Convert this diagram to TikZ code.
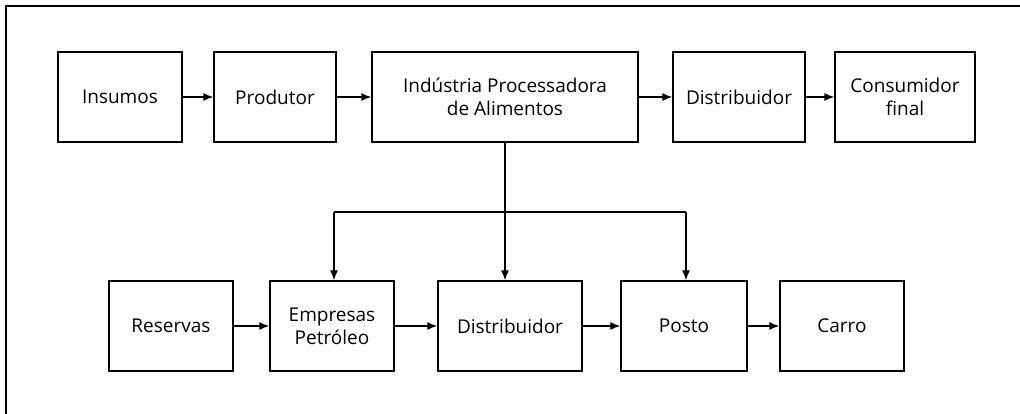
\documentclass[tikz,border=0pt]{standalone}
\usepackage{fontspec}
\setmainfont{Open Sans}
\usetikzlibrary{arrows.meta}
\begin{document}
\begin{tikzpicture}[x=1pt,y=-1pt,
  box/.style={draw, line width=1.3pt, minimum width=#1, minimum height=90pt,
    align=center, inner sep=0pt, font=\fontsize{19}{23}\selectfont},
  flow/.style={-{Latex[length=10pt,width=8pt]}, line width=1.3pt},
  wire/.style={line width=1.3pt}]
\useasboundingbox (0,0) rectangle (1020,414);
% frame
\draw[wire] (6,414) -- (6,6) -- (1020,6);

% food chain
\node[box=124pt] (ins) at (120,97) {Insumos};
\node[box=122pt] (pro) at (275,97) {Produtor};
\node[box=266pt] (ind) at (505,97) {Indústria Processadora\\de Alimentos};
\node[box=132pt] (dis) at (739,97) {Distribuidor};
\node[box=140pt] (con) at (905,97) {Consumidor\\final};

% fuel chain
\node[box=124pt] (res) at (171,326) {Reservas};
\node[box=124pt] (emp) at (332,326) {Empresas\\Petróleo};
\node[box=144pt] (dis2) at (510,326) {Distribuidor};
\node[box=126pt] (pos) at (684,326) {Posto};
\node[box=124pt] (car) at (842,326) {Carro};

\draw[flow] (ins) -- (pro);
\draw[flow] (pro) -- (ind);
\draw[flow] (ind) -- (dis);
\draw[flow] (dis) -- (con);

\draw[flow] (res) -- (emp);
\draw[flow] (emp) -- (dis2);
\draw[flow] (dis2) -- (pos);
\draw[flow] (pos) -- (car);

% branching from the processing industry
\coordinate (bl) at (334,212);
\coordinate (br) at (686,212);
\draw[flow] (ind.south) -- (ind.south |- dis2.north);
\draw[wire] (bl) -- (br);
\draw[flow] (bl) -- (bl |- emp.north);
\draw[flow] (br) -- (br |- pos.north);
\end{tikzpicture}
\end{document}
